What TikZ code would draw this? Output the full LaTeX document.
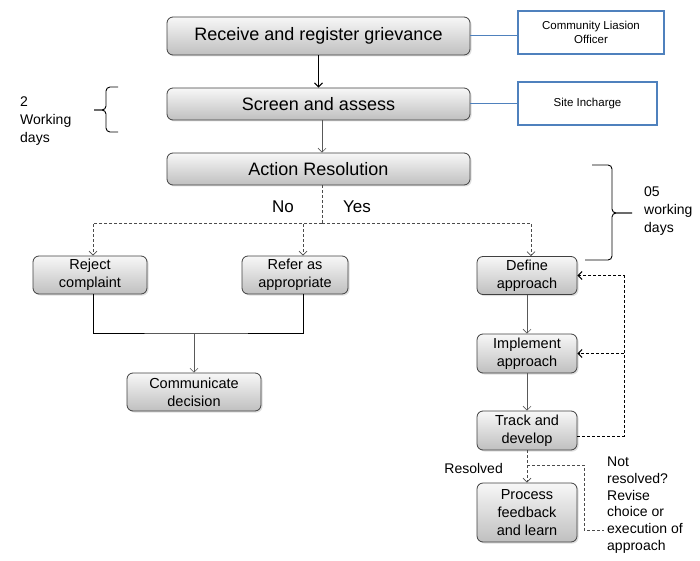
\documentclass[tikz,border=0pt]{standalone}
\usepackage{fontspec}
\setmainfont{Liberation Sans}
\usepackage{tikz}
\usetikzlibrary{arrows.meta, shadows}
\definecolor{boxline}{RGB}{64,64,64}
\definecolor{officeblue}{RGB}{79,129,189}

\begin{document}
\begin{tikzpicture}[x=1pt, y=-1pt,
  every node/.style={inner sep=2pt, align=center},
  gbox/.style={draw=boxline, line width=.8pt, rounded corners=6pt, top color=gray!6, bottom color=gray!50,
    drop shadow={shadow xshift=1.5pt, shadow yshift=-1.5pt, opacity=.25}},
  gstage/.style={gbox, minimum width=303pt, font=\fontsize{18}{21}\selectfont},
  gtask/.style={gbox, minimum width=100pt, minimum height=38pt, font=\fontsize{14.5}{18}\selectfont},
  grole/.style={draw=officeblue, line width=2.4pt, font=\fontsize{11.5}{14}\selectfont},
  gnote/.style={align=left, inner sep=0pt, font=\fontsize{14}{17}\selectfont},
  barb/.style={-{Straight Barb[length=4pt, width=8pt]}},
  flow/.style={barb, draw=gray!70!black, line width=.6pt},
  dashflow/.style={draw=gray!60!black, line width=.7pt, dash pattern=on 3pt off 2pt},
  retry/.style={barb, line width=.95pt, dash pattern=on 3pt off 2pt}]
\useasboundingbox (0,0) rectangle (700,561);
%\draw [gray!20] (0,0) grid [step=50] (700,561);
\node at (318.5,36) [name=receive, gstage, minimum height=38pt] {Receive and register grievance};
\node at (318.5,104) [name=screen, gstage, minimum height=32pt] {Screen and assess};
\node at (318.5,169) [name=action, gstage, minimum height=32pt] {Action Resolution};
\node at (591,32.5) [name=liaison, grole, minimum width=146pt, minimum height=43pt] {Community Liasion\\Officer};
\node at (587.5,103.5) [name=site, grole, minimum width=139pt, minimum height=43pt] {Site Incharge};
\draw [officeblue, line width=1pt] (receive.east) -- (receive.east -| liaison.west);
\draw [officeblue, line width=1pt] (screen.east) -- (screen.east -| site.west);
\draw [barb, line width=1.1pt] (receive) -- (screen);
\draw [flow] ([xshift=3.5pt]screen.south) -- ([xshift=3.5pt]action.north);
% branches
\node at (90,275) [name=reject, gtask, minimum width=114pt] {Reject\\complaint};
\node at (295,275) [name=refer, gtask, minimum width=106pt] {Refer as\\appropriate};
\node at (194,392) [name=communicate, gtask, minimum width=134pt] {Communicate\\decision};
\node at (527,275.5) [name=define, gtask] {Define\\approach};
\node at (527,353.5) [name=implement, gtask, minimum height=39pt] {Implement\\approach};
\node at (527,430.5) [name=track, gtask, minimum height=39pt] {Track and\\develop};
\node at (527,512.5) [name=process, gtask, minimum height=59pt] {Process\\feedback\\and learn};
\node at (283,207) [name=no, font=\fontsize{17}{20}\selectfont] {No};
\node at (357,207) [name=yes, font=\fontsize{17}{20}\selectfont] {Yes};
\coordinate (split) at (322,223);
\draw [dashflow] ([xshift=3.5pt]action.south) -- (split);
\draw [dashflow, barb] (split) -| ([xshift=3pt]reject.north);
\draw [dashflow, barb] (split) -| ([xshift=8pt]refer.north);
\draw [dashflow, barb] (split) -| ([xshift=4pt]define.north);
\coordinate (merge) at (194,333);
\draw [line width=.8pt] ([xshift=3pt]reject.south) |- (merge) -| ([xshift=8pt]refer.south);
\draw [flow] (merge) -- (communicate);
\foreach \a/\b in {define/implement, implement/track}
  \draw [flow] (\a) -- (\b);
% revise loop
\coordinate (back) at (624,436);
\draw [retry] ([yshift=-5.5pt]track.east) -- (back) -- (back |- define.east) -- (define.east);
\draw [retry] (back |- implement.east) -- (implement.east);
\draw [dashflow, barb] (track) -- (process);
\node at (503,468) [name=resolved, gnote, anchor=east] {Resolved};
\node at (607,457) [name=notres, gnote, anchor=north west, font=\fontsize{14}{16.7}\selectfont]
  {Not\\resolved?\\Revise\\choice or\\execution of\\approach};
\coordinate (turn) at (584,465);
\coordinate (exec) at (604,530);
\draw [dashflow] (track.south |- turn) -- (turn) |- (exec);
% working days
\draw [line width=.9pt, rounded corners=4pt] (118,87) -- (106,87) -- (106,110) -- (94,110);
\draw [line width=.9pt, rounded corners=4pt] (118,132) -- (106,132) -- (106,110) -- (94,110);
\node at (20,97) [name=twodays, gnote, anchor=north west, font=\fontsize{14}{18}\selectfont] {2\\Working\\days};
\draw [line width=.9pt, rounded corners=4pt] (592,165) -- (612,165) -- (612,213) -- (632,213);
\draw [line width=.9pt, rounded corners=4pt] (585,260) -- (612,260) -- (612,213) -- (632,213);
\node at (644,187) [name=fivedays, gnote, anchor=north west, font=\fontsize{14}{18}\selectfont] {05\\working\\days};
\end{tikzpicture}
\end{document}
